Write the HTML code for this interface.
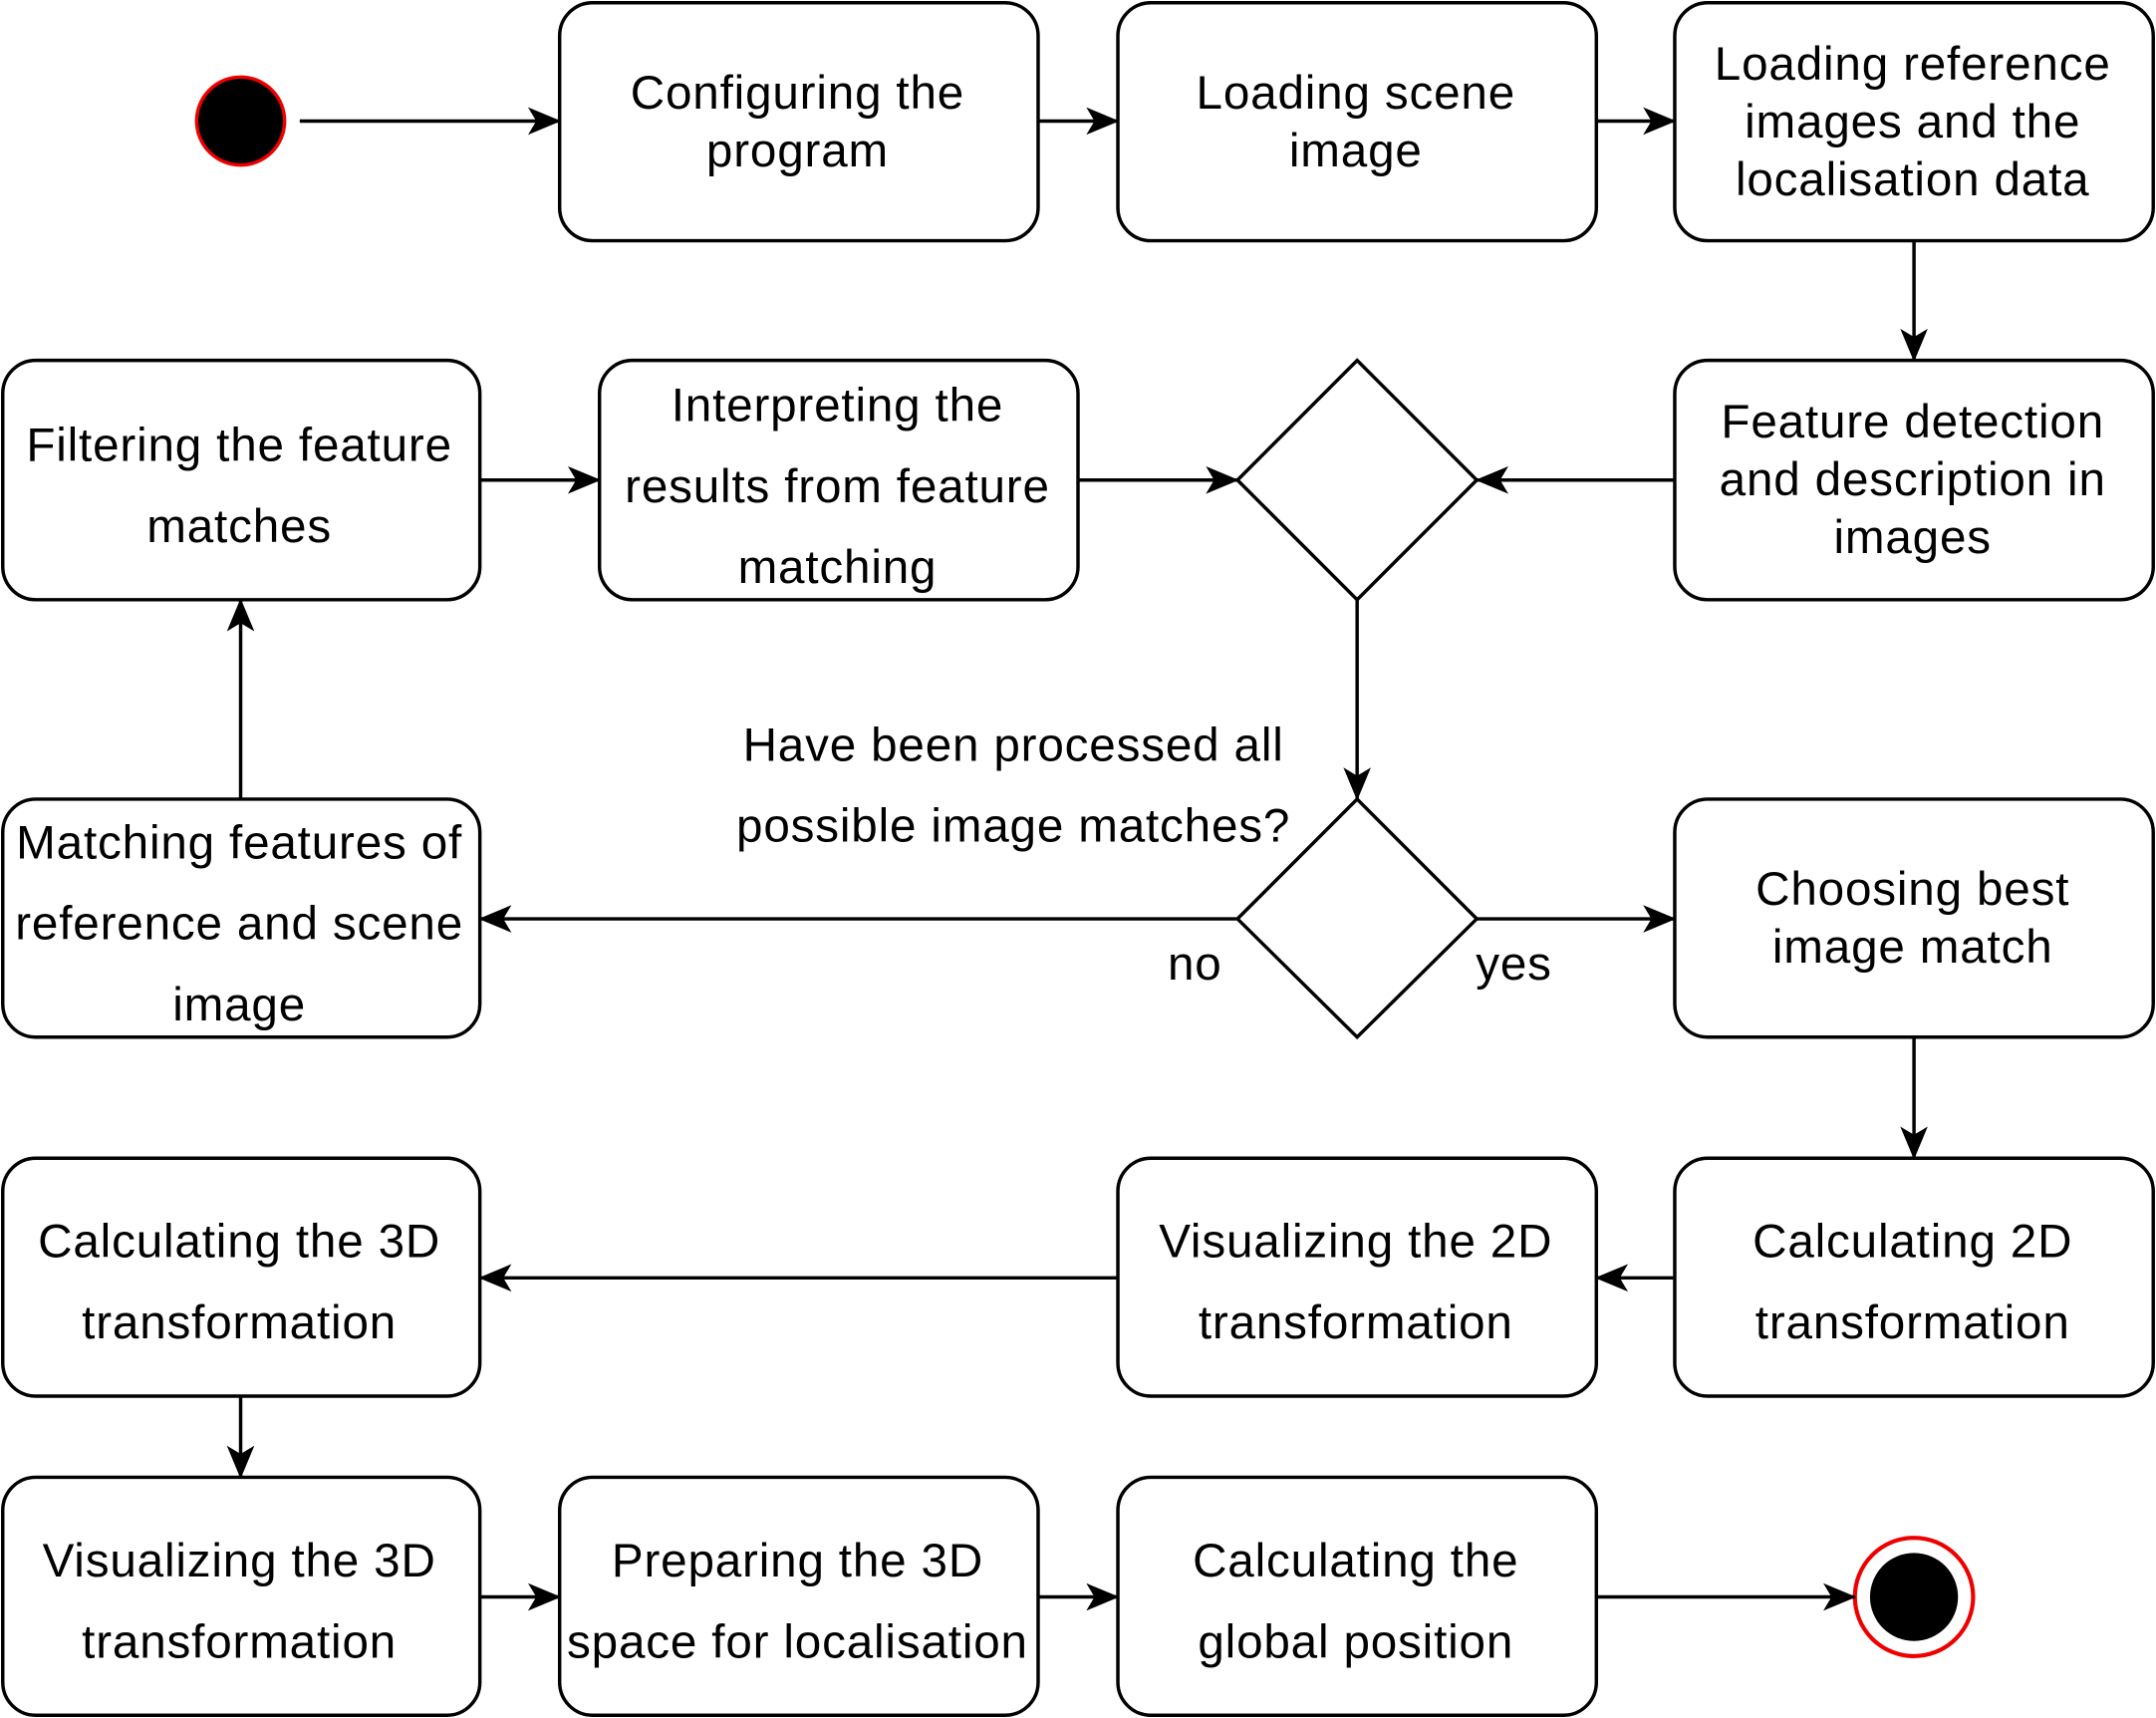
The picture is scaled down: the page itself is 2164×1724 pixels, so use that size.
<!DOCTYPE html>
<html><head><meta charset="utf-8"><style>
html,body{margin:0;padding:0;background:#fff;}
svg{display:block;}
text{font-family:"Liberation Sans",Arial,sans-serif;font-size:34.5px;letter-spacing:0.6px;fill:#000;text-anchor:middle;}
</style></head><body>
<svg width="2164" height="1724" viewBox="0 0 1568 1249" preserveAspectRatio="none" xmlns="http://www.w3.org/2000/svg">
<defs>
<marker id="a" markerWidth="24" markerHeight="20" refX="23" refY="10" orient="auto" markerUnits="userSpaceOnUse" viewBox="0 0 24 20">
<path d="M0,0 L24,10 L0,20 L6,10 Z" fill="#000"/>
</marker>
</defs>
<g fill="#fff" stroke="#000" stroke-width="2.5">
<rect x="407" y="2" width="348" height="173" rx="24"/>
<rect x="813" y="2" width="348" height="173" rx="24"/>
<rect x="1218" y="2" width="348" height="173" rx="24"/>
<rect x="2" y="262" width="347" height="174" rx="24"/>
<rect x="436" y="262" width="348" height="174" rx="24"/>
<rect x="1218" y="262" width="348" height="174" rx="24"/>
<rect x="2" y="581" width="347" height="173" rx="24"/>
<rect x="1218" y="581" width="348" height="173" rx="24"/>
<rect x="2" y="842" width="347" height="173" rx="24"/>
<rect x="813" y="842" width="348" height="173" rx="24"/>
<rect x="1218" y="842" width="348" height="173" rx="24"/>
<rect x="2" y="1074" width="347" height="173" rx="24"/>
<rect x="407" y="1074" width="348" height="173" rx="24"/>
<rect x="813" y="1074" width="348" height="173" rx="24"/>
<polygon points="987,262 1074,349 987,436 900,349"/>
<polygon points="987,581 1074,668 987,754 900,668"/>
</g>
<circle cx="175" cy="88" r="32" fill="#000" stroke="#e00" stroke-width="2.5"/>
<circle cx="1392" cy="1161" r="43" fill="#fff" stroke="#e00" stroke-width="3"/>
<circle cx="1392" cy="1161" r="32" fill="#000"/>
<g stroke="#000" stroke-width="2.5" fill="none" marker-end="url(#a)">
<line x1="218" y1="88" x2="407" y2="88"/>
<line x1="755" y1="88" x2="813" y2="88"/>
<line x1="1161" y1="88" x2="1218" y2="88"/>
<line x1="1392" y1="175" x2="1392" y2="262"/>
<line x1="1218" y1="349" x2="1074" y2="349"/>
<line x1="349" y1="349" x2="436" y2="349"/>
<line x1="784" y1="349" x2="900" y2="349"/>
<line x1="987" y1="436" x2="987" y2="581"/>
<line x1="900" y1="668" x2="349" y2="668"/>
<line x1="1074" y1="668" x2="1218" y2="668"/>
<line x1="175" y1="581" x2="175" y2="436"/>
<line x1="1392" y1="754" x2="1392" y2="842"/>
<line x1="1218" y1="929" x2="1161" y2="929"/>
<line x1="813" y1="929" x2="349" y2="929"/>
<line x1="175" y1="1015" x2="175" y2="1074"/>
<line x1="349" y1="1161" x2="407" y2="1161"/>
<line x1="755" y1="1161" x2="813" y2="1161"/>
<line x1="1161" y1="1161" x2="1349" y2="1161"/>
</g>
<text x="580" y="79">Configuring the</text>
<text x="580" y="121">program</text>
<text x="986" y="79">Loading scene</text>
<text x="986" y="121">image</text>
<text x="1391" y="58">Loading reference</text>
<text x="1391" y="100">images and the</text>
<text x="1391" y="142">localisation data</text>
<text x="174" y="335">Filtering the feature</text>
<text x="174" y="394">matches</text>
<text x="609" y="306">Interpreting the</text>
<text x="609" y="365">results from feature</text>
<text x="609" y="424">matching</text>
<text x="1391" y="318">Feature detection</text>
<text x="1391" y="360">and description in</text>
<text x="1391" y="402">images</text>
<text x="737" y="553">Have been processed all</text>
<text x="737" y="612">possible image matches?</text>
<text x="174" y="624">Matching features of</text>
<text x="174" y="683">reference and scene</text>
<text x="174" y="742">image</text>
<text x="1391" y="658">Choosing best</text>
<text x="1391" y="700">image match</text>
<text x="869" y="712">no</text>
<text x="1101" y="712">yes</text>
<text x="174" y="914">Calculating the 3D</text>
<text x="174" y="973">transformation</text>
<text x="986" y="914">Visualizing the 2D</text>
<text x="986" y="973">transformation</text>
<text x="1391" y="914">Calculating 2D</text>
<text x="1391" y="973">transformation</text>
<text x="174" y="1146">Visualizing the 3D</text>
<text x="174" y="1205">transformation</text>
<text x="580" y="1146">Preparing the 3D</text>
<text x="580" y="1205">space for localisation</text>
<text x="986" y="1146">Calculating the</text>
<text x="986" y="1205">global position</text>
</svg>
</body></html>
